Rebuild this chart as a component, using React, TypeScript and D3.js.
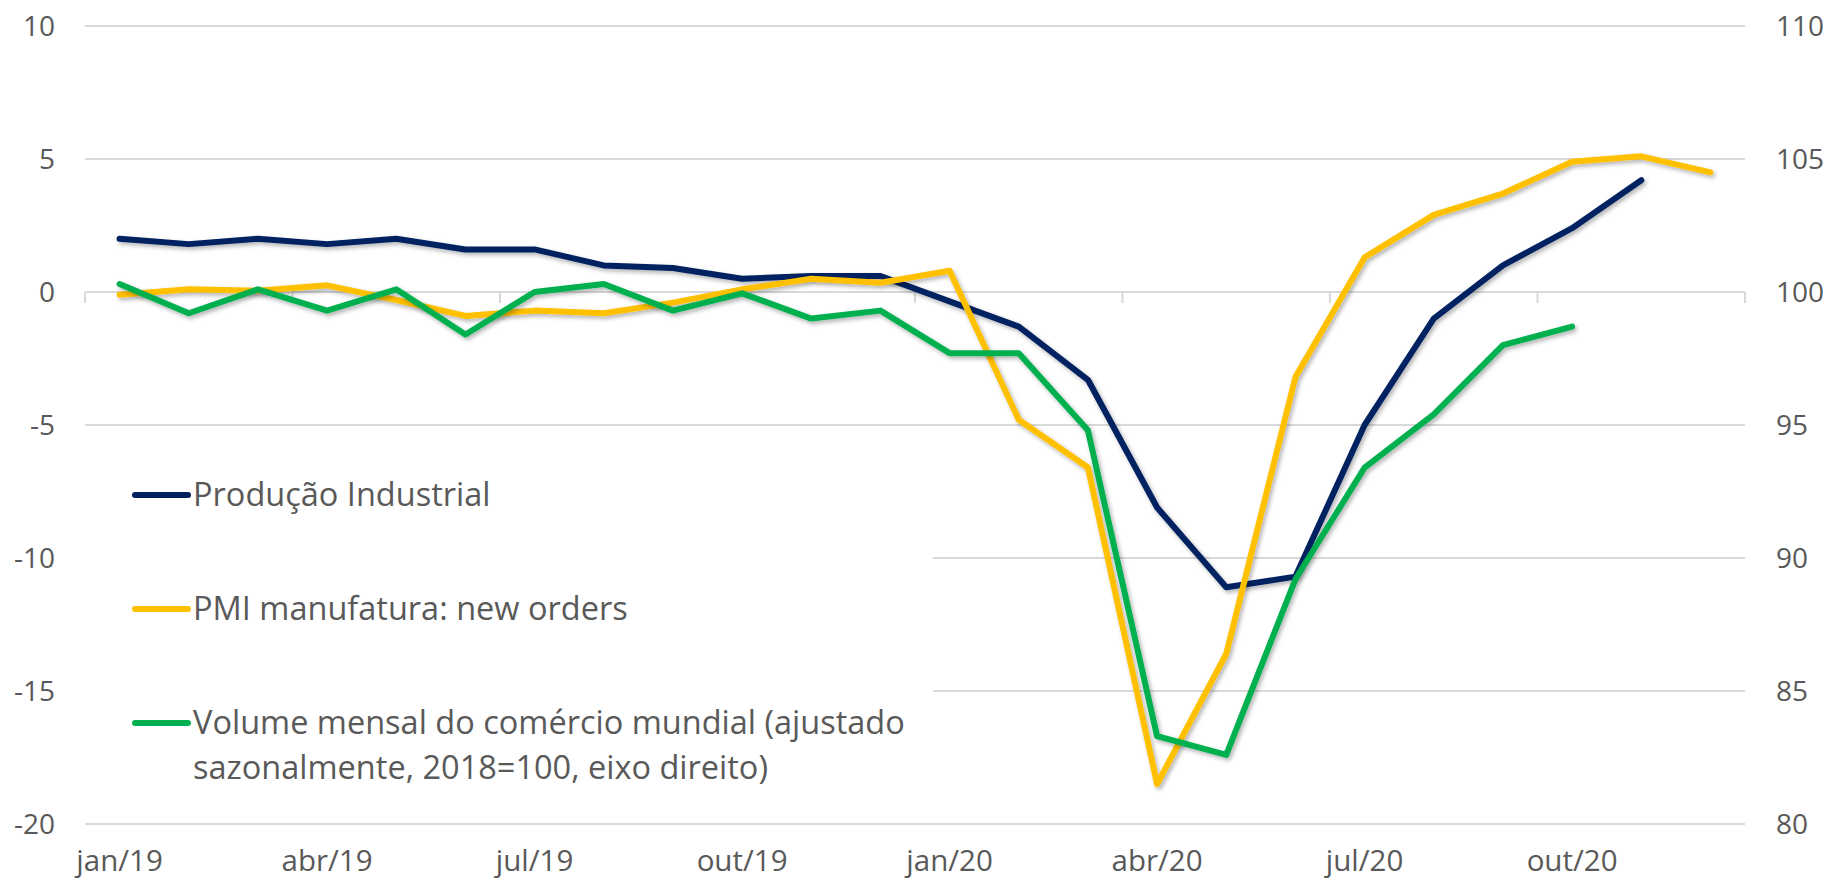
import React from 'react'
import * as d3 from 'd3'

// categorias (meses)
const months = [
  'jan/19', 'fev/19', 'mar/19', 'abr/19', 'mai/19', 'jun/19',
  'jul/19', 'ago/19', 'set/19', 'out/19', 'nov/19', 'dez/19',
  'jan/20', 'fev/20', 'mar/20', 'abr/20', 'mai/20', 'jun/20',
  'jul/20', 'ago/20', 'set/20', 'out/20', 'nov/20', 'dez/20',
]
const tickMonths = ['jan/19', 'abr/19', 'jul/19', 'out/19', 'jan/20', 'abr/20', 'jul/20', 'out/20']

// séries
const producao = [2.0, 1.8, 2.0, 1.8, 2.0, 1.6, 1.6, 1.0, 0.9, 0.5, 0.6, 0.6, -0.35, -1.3, -3.3, -8.1, -11.1, -10.7, -5.0, -1.0, 1.0, 2.4, 4.2, null]
const pmi = [-0.1, 0.1, 0.05, 0.25, -0.3, -0.9, -0.7, -0.8, -0.4, 0.1, 0.5, 0.35, 0.8, -4.8, -6.6, -18.5, -13.6, -3.2, 1.3, 2.9, 3.7, 4.9, 5.1, 4.5]
const volume = [100.3, 99.2, 100.1, 99.3, 100.1, 98.4, 100.0, 100.3, 99.3, 99.95, 99.0, 99.3, 97.7, 97.7, 94.8, 83.3, 82.6, 89.2, 93.4, 95.4, 98.0, 98.7, null, null]

const leftTicks = [10, 5, 0, -5, -10, -15, -20]
const rightTicks = [110, 105, 100, 95, 90, 85, 80]

const W = 1829
const H = 880
const left = 85
const right = 1745
const top = 26
const bottom = 824

const textColor = '#595959'
const gridColor = '#D9D9D9'

export default function App() {
  const x = d3.scaleBand<string>().domain(months).range([left, right])
  const cx = (m: string) => (x(m) as number) + x.bandwidth() / 2
  const yL = d3.scaleLinear().domain([-20, 10]).range([bottom, top])
  const yR = d3.scaleLinear().domain([80, 110]).range([bottom, top])

  const lineL = d3.line<number | null>()
    .defined(d => d !== null)
    .x((d, i) => cx(months[i]))
    .y(d => yL(d as number))
  const lineR = d3.line<number | null>()
    .defined(d => d !== null)
    .x((d, i) => cx(months[i]))
    .y(d => yR(d as number))

  const series = [
    { name: 'Produção Industrial', color: '#002060', path: lineL(producao) },
    { name: 'PMI manufatura: new orders', color: '#FFC000', path: lineL(pmi) },
    { name: 'Volume mensal do comércio mundial (ajustado', color: '#00B050', path: lineR(volume) },
  ]

  // tick marks on the category axis every 3 months
  const axisTicks = d3.range(0, months.length + 1, 3).map(i => left + i * x.step())

  const legend = [
    { color: '#002060', lines: ['Produção Industrial'], y: 506 },
    { color: '#FFC000', lines: ['PMI manufatura: new orders'], y: 620 },
    { color: '#00B050', lines: ['Volume mensal do comércio mundial (ajustado', 'sazonalmente, 2018=100, eixo direito)'], y: 734 },
  ]

  return (
    <svg width={W} height={H} style={{ position: 'absolute', left: 0, top: 0, background: '#fff' }}
      fontFamily="'Open Sans', sans-serif">
      <defs>
        <filter id="shadow" x="-5%" y="-5%" width="110%" height="110%">
          <feDropShadow dx="2" dy="2.5" stdDeviation="2" floodColor="#000" floodOpacity="0.3" />
        </filter>
      </defs>

      {/* gridlines */}
      {leftTicks.filter(t => t !== 0).map(t => (
        <line key={t} x1={left} x2={right} y1={yL(t)} y2={yL(t)} stroke={gridColor} strokeWidth={2} />
      ))}

      {/* legend box */}
      <rect x={left} y={440} width={848} height={362} fill="#fff" />

      {/* category axis at zero */}
      <line x1={left} x2={right} y1={yL(0)} y2={yL(0)} stroke={gridColor} strokeWidth={2} />
      {axisTicks.map((t, i) => (
        <line key={i} x1={t} x2={t} y1={yL(0)} y2={yL(0) + 11} stroke={gridColor} strokeWidth={2} />
      ))}

      {/* left axis labels */}
      {leftTicks.map(t => (
        <text key={t} x={55} y={yL(t)} dy="0.36em" textAnchor="end" fontSize={28} fill={textColor}>{t}</text>
      ))}
      {/* right axis labels */}
      {rightTicks.map(t => (
        <text key={t} x={1776} y={yR(t)} dy="0.36em" textAnchor="start" fontSize={28} fill={textColor}>{t}</text>
      ))}
      {/* x labels */}
      {tickMonths.map(m => (
        <text key={m} x={cx(m)} y={871} textAnchor="middle" fontSize={29.5} fill={textColor}>{m}</text>
      ))}

      {/* series */}
      {series.map(s => (
        <path key={s.name} d={s.path || ''} fill="none" stroke={s.color} strokeWidth={6}
          strokeLinejoin="round" strokeLinecap="round" filter="url(#shadow)" />
      ))}

      {/* legend */}
      {legend.map((l, i) => (
        <g key={i}>
          <line x1={135} x2={188} y1={l.y - 11} y2={l.y - 11} stroke={l.color} strokeWidth={6} strokeLinecap="round" />
          {l.lines.map((t, j) => (
            <text key={j} x={193} y={l.y + j * 45} fontSize={32.5} fill={textColor}>{t}</text>
          ))}
        </g>
      ))}
    </svg>
  )
}
